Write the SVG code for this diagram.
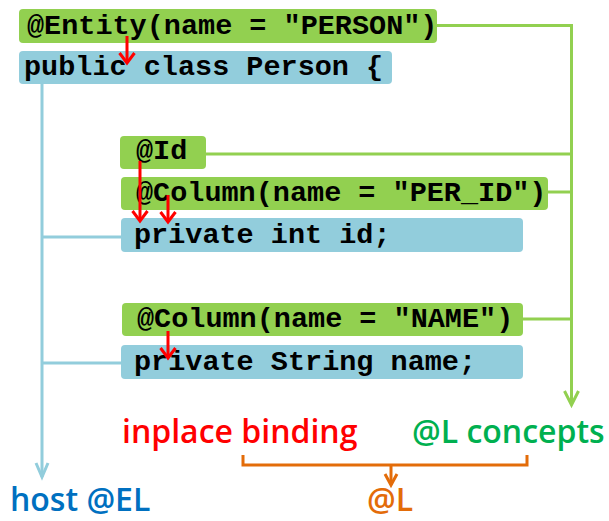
<svg xmlns="http://www.w3.org/2000/svg" width="609" height="521" viewBox="0 0 609 521">
  <style>
    .ann { fill: #92D050; }
    .host { fill: #92CDDC; }
    .code { font-family: "Liberation Mono", "Courier New", monospace; font-weight: bold; font-size: 28.5px; fill: #000; }
    .lbl { font-family: "Open Sans", "Noto Sans", sans-serif; font-size: 32px; font-weight: 600; }
    .g-line { stroke: #92D050; stroke-width: 3; fill: none; }
    .b-line { stroke: #92CDDC; stroke-width: 3; fill: none; }
    .r-line { stroke: #FF0000; stroke-width: 3; fill: none; }
    .o-line { stroke: #E36C09; stroke-width: 3; fill: none; }
  </style>
  <defs>
    <marker id="head-red" markerUnits="userSpaceOnUse" viewBox="-12 -10 14 20" refX="0" refY="0" markerWidth="14" markerHeight="20" orient="auto" overflow="visible">
      <path d="M-10,-7.5 L0,0 L-10,7.5" stroke="#FF0000" stroke-width="3" fill="none"/>
    </marker>
    <marker id="head-green" markerUnits="userSpaceOnUse" viewBox="-16 -10 18 20" refX="0" refY="0" markerWidth="18" markerHeight="20" orient="auto" overflow="visible">
      <path d="M-14,-7 L0,0 L-14,7" stroke="#92D050" stroke-width="3" fill="none"/>
    </marker>
    <marker id="head-blue" markerUnits="userSpaceOnUse" viewBox="-16 -10 18 20" refX="0" refY="0" markerWidth="18" markerHeight="20" orient="auto" overflow="visible">
      <path d="M-14,-6 L0,0 L-14,6" stroke="#92CDDC" stroke-width="3" fill="none"/>
    </marker>
    <marker id="head-orange" markerUnits="userSpaceOnUse" viewBox="-14 -10 16 20" refX="0" refY="0" markerWidth="16" markerHeight="20" orient="auto" overflow="visible">
      <path d="M-11,-6 L0,0 L-11,6" stroke="#E36C09" stroke-width="3" fill="none"/>
    </marker>
  </defs>

  <g id="entity">
    <rect class="ann" x="19" y="9" width="418" height="34" rx="4"/>
    <text class="code" x="27" y="34">@Entity(name = "PERSON")</text>
  </g>
  <g id="class-decl">
    <rect class="host" x="19" y="51" width="373" height="33" rx="4"/>
    <text class="code" x="24" y="75">public class Person {</text>
  </g>
  <g id="id-annotation">
    <rect class="ann" x="120" y="136" width="86" height="33" rx="4"/>
    <text class="code" x="136" y="159">@Id</text>
  </g>
  <g id="column-per-id">
    <rect class="ann" x="121" y="177" width="427" height="33" rx="4"/>
    <text class="code" x="136" y="201">@Column(name = "PER_ID")</text>
  </g>
  <g id="field-id">
    <rect class="host" x="121" y="218" width="402" height="34" rx="4"/>
    <text class="code" x="134" y="243">private int id;</text>
  </g>
  <g id="column-name">
    <rect class="ann" x="122" y="303" width="401" height="33" rx="4"/>
    <text class="code" x="137" y="327">@Column(name = "NAME")</text>
  </g>
  <g id="field-name">
    <rect class="host" x="121" y="345" width="402" height="34" rx="4"/>
    <text class="code" x="134" y="370">private String name;</text>
  </g>

  <g id="label-inplace">
    <text class="lbl" x="122" y="443" fill="#FF0000">inplace binding</text>
  </g>
  <g id="label-concepts">
    <text class="lbl" x="412" y="443" fill="#00B050">@L concepts</text>
  </g>
  <g id="label-host">
    <text class="lbl" x="10" y="511" fill="#0070C0">host @EL</text>
  </g>
  <g id="label-l">
    <text class="lbl" x="367" y="511" fill="#E36C09">@L</text>
  </g>

  <!-- connectors, drawn last so the binding arrows sit over the code boxes -->
  <g id="connectors">
    <!-- annotation collector to "@L concepts" -->
    <polyline class="g-line" points="437,25.5 571.5,25.5 571.5,405" marker-end="url(#head-green)"/>
    <line class="g-line" x1="206" y1="154" x2="571.5" y2="154"/>
    <line class="g-line" x1="548" y1="192" x2="571.5" y2="192"/>
    <line class="g-line" x1="523" y1="319" x2="571.5" y2="319"/>
    <!-- host code collector to "host @EL" -->
    <line class="b-line" x1="42" y1="84" x2="42" y2="477" marker-end="url(#head-blue)"/>
    <line class="b-line" x1="42" y1="237" x2="121" y2="237"/>
    <line class="b-line" x1="42" y1="363" x2="121" y2="363"/>
    <!-- inplace bindings -->
    <line class="r-line" x1="127" y1="36" x2="127" y2="63" marker-end="url(#head-red)"/>
    <line class="r-line" x1="140" y1="161" x2="140" y2="221" marker-end="url(#head-red)"/>
    <line class="r-line" x1="168" y1="195" x2="168" y2="222" marker-end="url(#head-red)"/>
    <line class="r-line" x1="168" y1="331" x2="168" y2="358" marker-end="url(#head-red)"/>
    <!-- bracket joining both parts into @L -->
    <polyline class="o-line" points="243,455 243,465 527,465 527,455"/>
    <line class="o-line" x1="391" y1="465" x2="391" y2="485" marker-end="url(#head-orange)"/>
  </g>
</svg>
